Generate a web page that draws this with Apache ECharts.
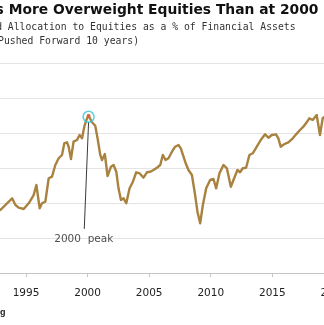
<!DOCTYPE html>
<html>
<head>
<meta charset="utf-8">
<script src="https://cdn.jsdelivr.net/npm/echarts@6/dist/echarts.min.js"></script>
<style>
html,body{margin:0;padding:0;background:#fff;overflow:hidden}
#chart{width:324px;height:325px}
</style>
</head>
<body>
<div id="chart"></div>
<script>
// Household allocation to equities, % of financial assets (shifted forward 10 years)
const years = [1992.7,1992.92,1993.87,1994.14,1994.40,1994.81,1995.22,1995.62,1995.84,1996.11,
  1996.30,1996.57,1996.84,1997.11,1997.38,1997.65,1997.92,1998.11,1998.33,1998.46,
  1998.65,1998.86,1999.14,1999.35,1999.55,1999.73,1999.95,2000.08,2000.36,2000.62,
  2000.81,2001.03,2001.17,2001.40,2001.62,2001.90,2002.11,2002.33,2002.51,2002.71,
  2002.92,2003.14,2003.41,2003.68,2003.95,2004.22,2004.54,2004.82,2005.09,2005.35,
  2005.63,2005.90,2006.11,2006.33,2006.57,2006.85,2007.11,2007.38,2007.57,2007.92,
  2008.19,2008.47,2008.73,2008.92,2009.14,2009.36,2009.63,2009.95,2010.22,2010.44,
  2010.71,2011.03,2011.31,2011.63,2011.90,2012.17,2012.38,2012.60,2012.87,2013.14,
  2013.41,2013.74,2014.06,2014.41,2014.68,2014.96,2015.30,2015.49,2015.68,2015.95,
  2016.30,2016.66,2016.93,2017.25,2017.52,2017.79,2018.00,2018.28,2018.60,2018.87,
  2019.09,2019.20,2019.45];
const shares = [29.3,29.0,30.67,29.71,29.33,29.14,29.96,31.14,32.57,29.24,
  29.96,30.19,33.53,33.76,35.43,36.39,36.86,38.53,38.67,38.04,
  36.29,38.76,39.0,39.71,39.24,40.90,42.10,42.47,41.53,41.04,
  39.24,36.86,36.14,37.0,33.86,35.19,35.43,34.47,32.10,30.43,
  30.67,29.96,32.10,33.04,34.39,34.24,33.61,34.39,34.47,34.71,
  35.04,35.43,36.86,36.14,36.39,37.33,38.04,38.29,37.81,35.90,
  34.71,34.0,31.14,28.76,27.10,29.71,32.10,33.29,33.43,32.10,
  34.24,35.43,34.96,32.33,33.53,34.71,34.39,34.96,35.04,36.86,
  37.10,38.04,39.0,39.81,39.33,39.71,39.81,39.24,38.04,38.39,
  38.67,39.24,39.81,40.43,40.90,41.53,42.10,41.86,42.57,39.71,
  42.10,42.33,42.6];

// Year ticks along the bottom axis
const tickYears = [1995, 2000, 2005, 2010, 2015, 2020];
// Visible window of the time axis
const xStart = 1992.887;
const xEnd = 2019.196;

const peakYear = 2000.08;
const peakShare = 42.47;
const peakLabel = '2000  peak';
const peakLabelPos = [1999.69, 24.86];
const leaderEnd = [1999.73, 26.3];
const leaderStart = [2000.08, 41.6];

const titleText = 'U.S. Households More Overweight Equities Than at 2000';
const subtitle1 = 'Household Allocation to Equities as a % of Financial Assets';
const subtitle2 = '(Pushed Forward 10 years)';
const sourceText = 'Source: Bloomberg';

const chart = echarts.init(document.getElementById('chart'), null, {renderer: 'canvas'});

const lineColor = '#a9823f';
const textFont = '"DejaVu Sans", Verdana, sans-serif';
const monoFont = '"DejaVu Sans Mono", "Liberation Mono", monospace';
const gridBottom = 52;

const headerGraphics = [
  {type: 'text', x: 318.5, y: 10.5, style: {text: titleText, font: 'bold 13.85px ' + textFont,
    fill: '#111', align: 'right', verticalAlign: 'middle', textAlign: 'right', textVerticalAlign: 'middle'}},
  {type: 'text', x: 295.5, y: 27.5, style: {text: subtitle1, font: '9.75px ' + monoFont,
    fill: '#333', align: 'right', verticalAlign: 'middle', textAlign: 'right', textVerticalAlign: 'middle'}},
  {type: 'text', x: 139, y: 41, style: {text: subtitle2, font: '9.75px ' + monoFont,
    fill: '#333', align: 'right', verticalAlign: 'middle', textAlign: 'right', textVerticalAlign: 'middle'}},
  {type: 'text', x: 5.5, y: 313, style: {text: sourceText, font: 'bold 9px "Liberation Sans", Arial, sans-serif',
    fill: '#222', align: 'right', verticalAlign: 'middle', textAlign: 'right', textVerticalAlign: 'middle'}}
];

chart.setOption({
  animation: false,
  backgroundColor: '#ffffff',
  grid: {left: 0, right: 0, top: 63, bottom: gridBottom, containLabel: false},
  xAxis: {
    type: 'value',
    min: xStart, max: xEnd,
    axisLine: {show: true, lineStyle: {color: '#c4c4c4', width: 1}},
    axisTick: {show: true, length: 4, customValues: tickYears, lineStyle: {color: '#c4c4c4'}},
    axisLabel: {show: true, margin: 15, color: '#222', fontSize: 10.5, fontFamily: textFont,
      customValues: tickYears, formatter: v => String(Math.round(v))},
    splitLine: {show: false}
  },
  yAxis: {
    type: 'value',
    min: 20, max: 50, interval: 5,
    axisLine: {show: false},
    axisTick: {show: false},
    axisLabel: {show: false},
    splitLine: {show: true, lineStyle: {color: '#e4e4e4', width: 1}}
  },
  graphic: headerGraphics,
  series: [
    {
      type: 'line',
      data: years.map((y, i) => [y, shares[i]]),
      showSymbol: false,
      symbol: 'none',
      lineStyle: {color: lineColor, width: 2.4, join: 'round'},
      clip: true,
      z: 3,
      markLine: {
        silent: true,
        symbol: ['none', 'none'],
        label: {show: false},
        lineStyle: {color: '#3a3a3a', width: 1, type: 'solid'},
        data: [[{coord: leaderStart}, {coord: leaderEnd}]]
      }
    },
    {
      type: 'scatter',
      data: [[peakYear, peakShare]],
      symbol: 'circle',
      symbolSize: 4,
      itemStyle: {color: '#d2603a'},
      z: 4
    },
    {
      type: 'scatter',
      data: [[peakYear, peakShare - 0.15]],
      symbol: 'circle',
      symbolSize: 11,
      itemStyle: {color: 'rgba(255,255,255,0)', borderColor: '#3cc6d6', borderWidth: 1.6},
      z: 5
    },
    {
      type: 'scatter',
      data: [peakLabelPos],
      symbolSize: 0,
      label: {show: true, position: 'inside', formatter: peakLabel, color: '#222',
        fontSize: 10.5, fontFamily: textFont},
      z: 6
    }
  ]
});

// The last year tick sits just past the right edge; place its label through the axis scale
const lastTick = tickYears[tickYears.length - 1];
const edgePx = chart.convertToPixel({xAxisIndex: 0}, lastTick);
const axisPx = chart.convertToPixel({yAxisIndex: 0}, 20);
chart.setOption({
  graphic: headerGraphics.concat([
    {type: 'text', x: edgePx, y: axisPx + 15, style: {text: String(lastTick), font: '10.5px ' + textFont,
      fill: '#222', align: 'center', verticalAlign: 'top', textAlign: 'center', textVerticalAlign: 'top'}}
  ])
});
</script>
</body>
</html>
